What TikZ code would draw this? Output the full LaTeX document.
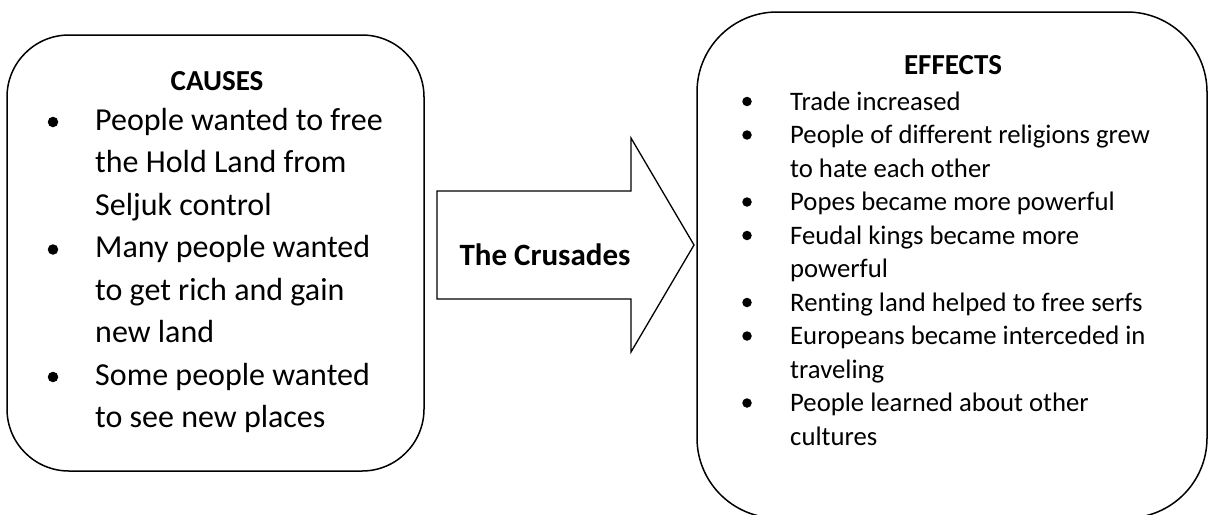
\documentclass[tikz,border=0pt]{standalone}
\usepackage{fontspec}
\setmainfont[Ligatures=NoCommon]{Carlito}
\begin{document}
\begin{tikzpicture}[x=1pt,y=-1pt,
  box/.style={draw=black,line width=1.5pt,rounded corners=#1,inner sep=0pt},
  bigtxt/.style={anchor=base west,inner sep=0pt,font=\fontsize{32}{38}\selectfont},
  smalltxt/.style={anchor=base west,inner sep=0pt,font=\fontsize{26.7}{32}\selectfont},
  head/.style={anchor=base,inner sep=0pt,font=\fontsize{29}{34}\selectfont\bfseries},
  dot/.style={circle,fill=black,inner sep=0pt,minimum size=#1}]
\useasboundingbox (0,0) rectangle (1209,514);
% boxes
\node[box=62pt,minimum width=417pt,minimum height=436pt] (causesbox) at (215.5,253) {};
\node[box=80pt,minimum width=510pt,minimum height=506pt] (effectsbox) at (952,265) {};
% arrow
\draw[line width=1.3pt,line join=miter] (437,191) coordinate (a1) -- (631,191) -- (631,138) -- (694,245) coordinate (tip) -- (631,352) -- (631,299) -- (437,299) -- cycle;
\node[head,font=\fontsize{31}{34}\selectfont\bfseries] (crusades) at (545,265) {The Crusades};
% causes
\node[head] (causes) at (217,90) {CAUSES};
\node[bigtxt] (c1) at (95,130) {People wanted to free};
\node[bigtxt] (c2) at (95,172.5) {the Hold Land from};
\node[bigtxt] (c3) at (95,215) {Seljuk control};
\node[bigtxt] (c4) at (95,257.5) {Many people wanted};
\node[bigtxt] (c5) at (95,300) {to get rich and gain};
\node[bigtxt] (c6) at (95,342.5) {new land};
\node[bigtxt] (c7) at (95,385) {Some people wanted};
\node[bigtxt] (c8) at (95,427.5) {to see new places};
\node[dot=10.5pt] (cb1) at (53,122) {};
\node[dot=10.5pt] (cb2) at (53,249.5) {};
\node[dot=10.5pt] (cb3) at (53,377) {};
% effects
\node[head] (effects) at (953,74) {EFFECTS};
\node[smalltxt] (e1) at (790,110) {Trade increased};
\node[smalltxt] (e2) at (790,143.5) {People of different religions grew};
\node[smalltxt] (e3) at (790,177) {to hate each other};
\node[smalltxt] (e4) at (790,210.5) {Popes became more powerful};
\node[smalltxt] (e5) at (790,244) {Feudal kings became more};
\node[smalltxt] (e6) at (790,277.5) {powerful};
\node[smalltxt] (e7) at (790,311) {Renting land helped to free serfs};
\node[smalltxt] (e8) at (790,344.5) {Europeans became interceded in};
\node[smalltxt] (e9) at (790,378) {traveling};
\node[smalltxt] (e10) at (790,411.5) {People learned about other};
\node[smalltxt] (e11) at (790,445) {cultures};
\foreach \n/\y in {1/110,2/143.5,4/210.5,5/244,7/311,8/344.5,10/411.5}
  \node[dot=9.5pt] (eb\n) at (747,\y-8.5) {};
\end{tikzpicture}
\end{document}
